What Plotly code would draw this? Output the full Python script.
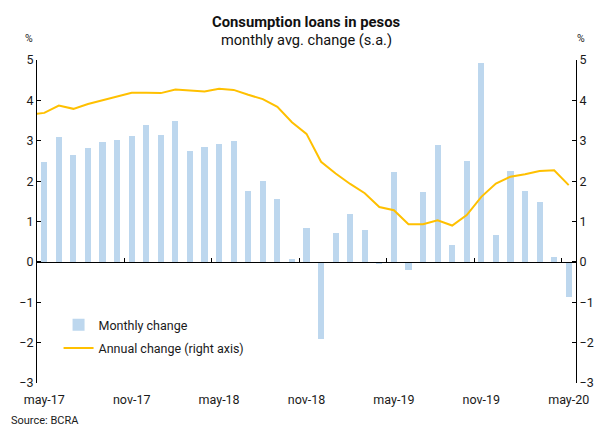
import plotly.graph_objects as go

months = ["apr-17", "may-17", "jun-17", "jul-17", "aug-17", "sep-17", "oct-17",
          "nov-17", "dec-17", "jan-18", "feb-18", "mar-18", "apr-18",
          "may-18", "jun-18", "jul-18", "aug-18", "sep-18", "oct-18",
          "nov-18", "dec-18", "jan-19", "feb-19", "mar-19", "apr-19",
          "may-19", "jun-19", "jul-19", "aug-19", "sep-19", "oct-19",
          "nov-19", "dec-19", "jan-20", "feb-20", "mar-20", "apr-20", "may-20"]

monthly_change = [None, 2.48, 3.09, 2.64, 2.82, 2.96, 3.02, 3.11, 3.39, 3.14, 3.50,
                  2.75, 2.85, 2.91, 2.99, 1.76, 2.00, 1.55, 0.08,
                  0.85, -1.90, 0.72, 1.19, 0.80, -0.06,
                  2.23, -0.20, 1.73, 2.90, 0.43, 2.50,
                  4.93, 0.67, 2.26, 1.75, 1.48, 0.12, -0.88]

annual_change = [3.65, 3.69, 3.87, 3.79, 3.91, 4.00, 4.09, 4.19, 4.19, 4.18, 4.27,
                 4.25, 4.22, 4.29, 4.26, 4.14, 4.03, 3.84, 3.46,
                 3.17, 2.48, 2.19, 1.93, 1.70, 1.36,
                 1.28, 0.93, 0.93, 1.03, 0.90, 1.16,
                 1.61, 1.94, 2.11, 2.17, 2.25, 2.27, 1.90]

tick_labels = ["may-17", "nov-17", "may-18", "nov-18", "may-19", "nov-19", "may-20"]

x = list(range(len(months)))
label_pos = [months.index(t) for t in tick_labels]
boundary_pos = [p + 5.5 for p in label_pos[:-1]]
xrange = [0.5, len(months) - 0.5]

FONT = "Roboto"
BAR = "#BDD7EE"
LINE = "#FFC000"
TXT = "#1a1a1a"

fig = go.Figure()
fig.add_trace(go.Bar(x=x, y=monthly_change, name="Monthly change", legendgroup="m",
                     marker=dict(color=BAR, line=dict(width=0)), width=0.42,
                     xaxis="x", yaxis="y"))
fig.add_trace(go.Scatter(x=x, y=annual_change, name="Annual change (right axis)",
                         legendgroup="a", mode="lines", line=dict(color=LINE, width=2),
                         xaxis="x2", yaxis="y2"))

ymin, ymax = -3, 5
zero_frac = (0 - ymin) / (ymax - ymin)

fig.update_layout(
    width=595, height=426,
    margin=dict(l=37, r=19, t=60, b=43, autoexpand=False),
    paper_bgcolor="white", plot_bgcolor="white",
    font=dict(family=FONT, size=12, color=TXT),
    showlegend=True,
    legend=dict(x=0.04, y=0.226, xanchor="left", yanchor="top",
                bgcolor="rgba(0,0,0,0)", font=dict(size=12.5, color=TXT),
                itemwidth=30, tracegroupgap=4),
    bargap=0,
    xaxis=dict(range=xrange, tickmode="array", tickvals=label_pos, ticktext=tick_labels,
               showline=False, showgrid=False, zeroline=False, automargin=False,
               ticks="outside", ticklen=5, tickcolor="rgba(0,0,0,0)",
               tickfont=dict(size=12.5, color=TXT)),
    xaxis2=dict(range=xrange, overlaying="x", anchor="free", position=zero_frac,
                showline=True, linecolor="black", linewidth=1, automargin=False,
                tickmode="array", tickvals=boundary_pos, ticks="inside", ticklen=4,
                tickcolor="black", showticklabels=False, showgrid=False, zeroline=False),
    yaxis=dict(range=[ymin, ymax], dtick=1, showline=True, linecolor="black", linewidth=1,
               ticks="inside", ticklen=4, tickcolor="black", showgrid=False, zeroline=False,
               automargin=False, tickfont=dict(size=12.5, color=TXT)),
    yaxis2=dict(range=[ymin, ymax], dtick=1, overlaying="y", side="right", anchor="x",
                showline=True, linecolor="black", linewidth=1, automargin=False,
                ticks="inside", ticklen=4, tickcolor="black", showgrid=False, zeroline=False,
                tickfont=dict(size=12.5, color=TXT)),
    annotations=[
        dict(text="<b>Consumption loans in pesos</b>", xref="paper", yref="paper",
             x=0.5, y=1, yshift=38, xanchor="center", yanchor="middle",
             showarrow=False, font=dict(size=14.8, color="#111")),
        dict(text="monthly avg. change (s.a.)", xref="paper", yref="paper",
             x=0.5, y=1, yshift=20, xanchor="center", yanchor="middle",
             showarrow=False, font=dict(size=14.6, color="#111")),
        dict(text="%", xref="paper", yref="paper", x=0, y=1, xshift=-8, yshift=22,
             xanchor="center", yanchor="middle", showarrow=False, font=dict(size=10.5)),
        dict(text="%", xref="paper", yref="paper", x=1, y=1, xshift=5, yshift=22,
             xanchor="center", yanchor="middle", showarrow=False, font=dict(size=10.5)),
        dict(text="Source: BCRA", xref="paper", yref="paper", x=0, y=0, xshift=-28,
             yshift=-37, xanchor="left", yanchor="middle", showarrow=False,
             font=dict(size=11, color=TXT)),
    ],
)

fig.write_html("out.html", config={"displayModeBar": False},
               post_script="document.body.style.margin='0';document.body.style.padding='0';")
